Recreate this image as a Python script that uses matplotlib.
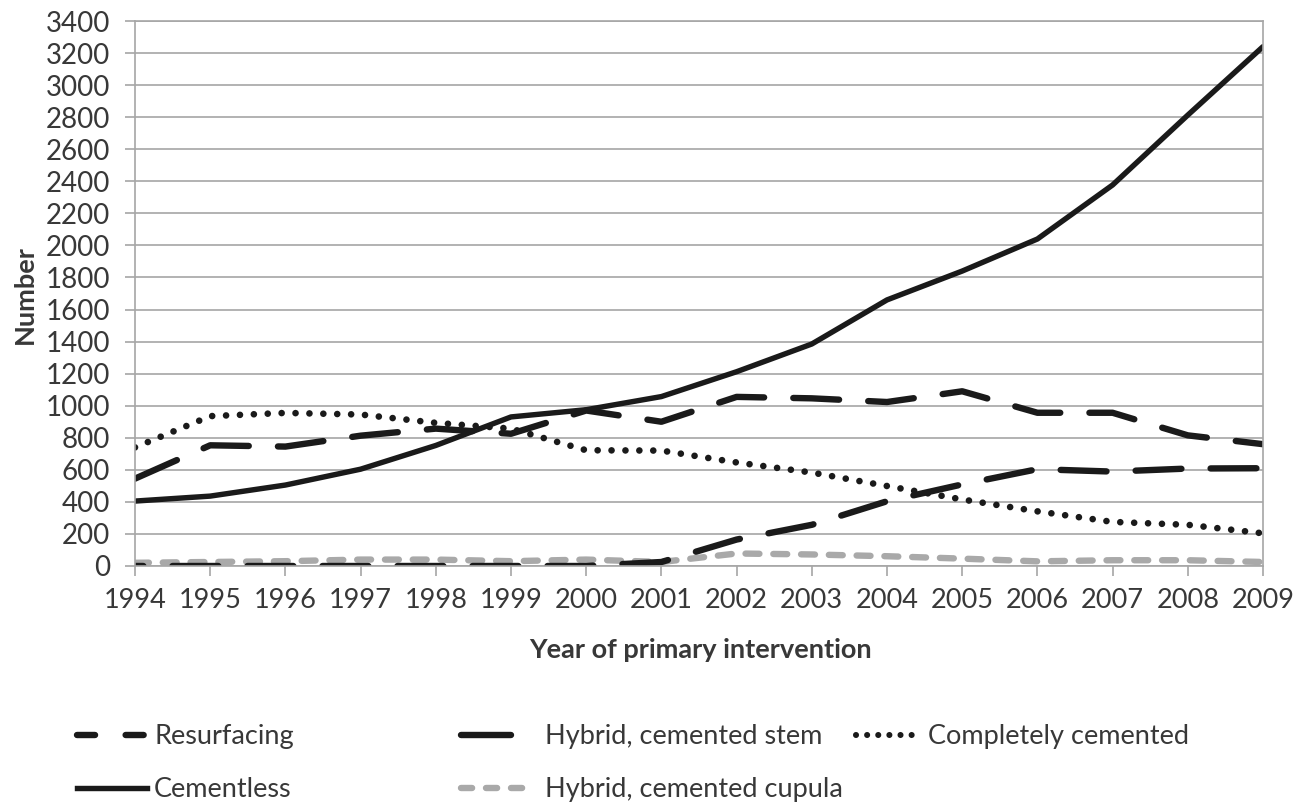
import matplotlib.pyplot as plt
from matplotlib.lines import Line2D

plt.rcParams["font.family"] = ["Lato", "DejaVu Sans"]
plt.rcParams["lines.scale_dashes"] = False

years = list(range(1994, 2010))
cementless = [405, 436, 505, 604, 752, 930, 975, 1057, 1212, 1385, 1660, 1840, 2040, 2377, 2813, 3240]
hybrid_stem = [545, 753, 745, 813, 857, 825, 970, 900, 1055, 1046, 1023, 1090, 956, 956, 815, 760]
completely = [740, 935, 955, 945, 893, 857, 722, 720, 646, 583, 499, 415, 341, 275, 257, 204]
resurfacing = [0, 0, 0, 0, 0, 0, 0, 25, 165, 257, 404, 509, 604, 589, 608, 610]
cupula = [20, 25, 30, 40, 40, 30, 40, 25, 78, 72, 61, 46, 29, 36, 36, 25]

yticks = list(range(0, 3401, 200))

txt = "#383838"
grid = "#a6a6a6"
blk = "#1a1a1a"
gry = "#a9a9a9"

fig = plt.figure(figsize=(12.93, 8.08), dpi=100)
ax = fig.add_axes([135 / 1293, 1 - 566 / 808, 1128 / 1293, 545 / 808])

ax.plot(years, cupula, color=gry, lw=4.6, linestyle=(0, (10, 10)), dash_capstyle="round")
ax.plot(years, resurfacing, color=blk, lw=4.6, linestyle=(27, (33, 21)), dash_capstyle="round")
ax.plot(years, completely, color=blk, lw=4.8, linestyle=(0, (0.01, 10)), dash_capstyle="round")
ax.plot(years, hybrid_stem, color=blk, lw=4.6, linestyle=(0, (33, 21)), dash_capstyle="round")
ax.plot(years, cementless, color=blk, lw=3.9, solid_capstyle="round")

ax.set_xlim(1994, 2009)
ax.set_ylim(0, 3400)
ax.set_xticks(years)
ax.set_yticks(yticks)
ax.yaxis.grid(True, color=grid, lw=1.2)
ax.set_axisbelow(True)
for s in ax.spines.values():
    s.set_color(grid)
    s.set_linewidth(1.2)
ax.tick_params(axis="y", length=7, width=1.2, color=grid, pad=11, labelsize=20, labelcolor=txt)
ax.tick_params(axis="x", length=7, width=1.2, color=grid, pad=9, labelsize=19.5, labelcolor=txt)

fig.text(25 / 1293, 1 - 295 / 808, "Number", rotation=90, ha="center", va="center",
         fontsize=19.5, fontweight="bold", color=txt)
fig.text(700 / 1293, 1 - 650 / 808, "Year of primary intervention", ha="center", va="center",
         fontsize=19.5, fontweight="bold", color=txt)

h_res = Line2D([], [], color=blk, lw=4.6, linestyle=(0, (13, 22)), dash_capstyle="round")
h_cem = Line2D([], [], color=blk, lw=3.9)
h_stem = Line2D([], [], color=blk, lw=4.6, linestyle=(0, (36, 21)), dash_capstyle="round")
h_cup = Line2D([], [], color=gry, lw=4.6, linestyle=(0, (8, 10)), dash_capstyle="round")
h_comp = Line2D([], [], color=blk, lw=4.4, linestyle=(0, (0.01, 8)), dash_capstyle="round")

common = dict(frameon=False, fontsize=19.5, labelcolor=txt,
              labelspacing=1.05, borderpad=0, borderaxespad=0, loc="upper left")
leg1 = fig.legend([h_res, h_cem], ["Resurfacing", "Cementless"], handlelength=2.6,
                  handletextpad=0.25, bbox_to_anchor=(77 / 1293, 1 - 724 / 808), **common)
leg2 = fig.legend([h_stem, h_cup], ["Hybrid, cemented stem", "Hybrid, cemented cupula"],
                  handlelength=2.6, handletextpad=0.5,
                  bbox_to_anchor=(461 / 1293, 1 - 724 / 808), **common)
leg3 = fig.legend([h_comp], ["Completely cemented"], handlelength=2.4,
                  handletextpad=0.25, bbox_to_anchor=(856 / 1293, 1 - 724 / 808), **common)

plt.savefig("out.png", dpi=100)
